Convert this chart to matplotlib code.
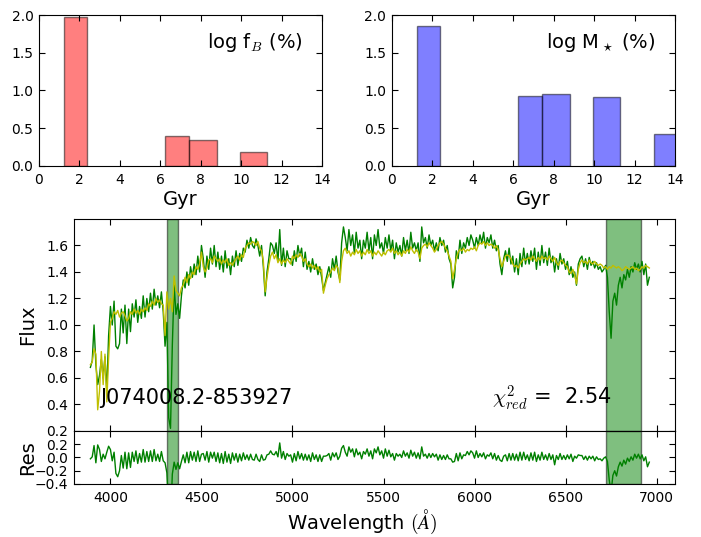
import numpy as np
import matplotlib
matplotlib.use("Agg")
import matplotlib.pyplot as plt


plt.rcParams.update({
    "font.family": "DejaVu Sans",
    "font.size": 10,
    "mathtext.fontset": "cm",
    "xtick.direction": "in",
    "ytick.direction": "in",
    "xtick.top": True,
    "ytick.right": True,
    "xtick.major.size": 4,
    "ytick.major.size": 4,
    "xtick.major.pad": 5,
    "ytick.major.pad": 4,
})


# star formation history bins (Gyr)
bin_left = [1.25, 6.23, 7.44, 9.96, 12.98]
bin_width = [1.12, 1.21, 1.37, 1.32, 1.37]
log_fb = [1.97, 0.40, 0.35, 0.18, 0.0]
log_mstar = [1.85, 0.93, 0.96, 0.92, 0.42]

# spectrum, sampled every 10 A from 3890 to 6960
wave = np.arange(3890, 6961, 10)

flux = [
    0.68, 0.73, 1.00, 0.70, 0.55, 0.62, 0.74, 0.60, 0.76, 0.50,
    0.92, 1.14, 1.00, 1.18, 0.84, 0.82, 0.86, 1.12, 0.94, 1.15,
    0.86, 1.12, 0.95, 1.16, 1.06, 1.19, 1.02, 1.14, 1.05, 1.22,
    1.06, 1.20, 1.10, 1.24, 1.12, 1.27, 1.15, 1.22, 1.13, 1.25,
    1.10, 0.84, 1.02, 0.30, 0.22, 0.85, 1.30, 1.08, 1.16, 1.05,
    1.22, 1.34, 1.28, 1.40, 1.30, 1.44, 1.36, 1.46, 1.38, 1.52,
    1.40, 1.60, 1.50, 1.36, 1.52, 1.42, 1.58, 1.46, 1.60, 1.44,
    1.55, 1.42, 1.52, 1.40, 1.56, 1.43, 1.50, 1.38, 1.52, 1.44,
    1.56, 1.45, 1.54, 1.48, 1.58, 1.55, 1.64, 1.58, 1.66, 1.60,
    1.58, 1.65, 1.60, 1.52, 1.60, 1.44, 1.22, 1.40, 1.50, 1.62,
    1.60, 1.54, 1.62, 1.48, 1.72, 1.45, 1.58, 1.44, 1.56, 1.50,
    1.50, 1.45, 1.56, 1.48, 1.60, 1.52, 1.58, 1.44, 1.55, 1.42,
    1.48, 1.40, 1.50, 1.42, 1.46, 1.38, 1.44, 1.36, 1.26, 1.32,
    1.38, 1.44, 1.36, 1.50, 1.42, 1.52, 1.40, 1.34, 1.62, 1.74,
    1.66, 1.56, 1.72, 1.60, 1.68, 1.54, 1.70, 1.58, 1.64, 1.50,
    1.64, 1.58, 1.70, 1.56, 1.66, 1.50, 1.68, 1.60, 1.72, 1.58,
    1.62, 1.54, 1.66, 1.58, 1.68, 1.56, 1.64, 1.50, 1.62, 1.55,
    1.60, 1.52, 1.66, 1.56, 1.64, 1.54, 1.70, 1.58, 1.62, 1.56,
    1.62, 1.48, 1.74, 1.62, 1.66, 1.58, 1.68, 1.60, 1.64, 1.56,
    1.62, 1.56, 1.66, 1.60, 1.64, 1.55, 1.60, 1.50, 1.46, 1.28,
    1.36, 1.56, 1.50, 1.64, 1.54, 1.62, 1.58, 1.66, 1.60, 1.68,
    1.64, 1.58, 1.66, 1.60, 1.68, 1.62, 1.70, 1.58, 1.66, 1.62,
    1.68, 1.58, 1.64, 1.56, 1.60, 1.46, 1.38, 1.50, 1.56, 1.48,
    1.58, 1.46, 1.52, 1.40, 1.50, 1.38, 1.54, 1.44, 1.58, 1.46,
    1.54, 1.46, 1.56, 1.48, 1.58, 1.42, 1.55, 1.45, 1.60, 1.47,
    1.55, 1.45, 1.58, 1.47, 1.52, 1.40, 1.50, 1.42, 1.54, 1.46,
    1.50, 1.42, 1.48, 1.38, 1.44, 1.36, 1.40, 1.30, 1.46, 1.50,
    1.52, 1.44, 1.50, 1.42, 1.51, 1.45, 1.48, 1.43, 1.47, 1.42,
    1.44, 1.40, 1.42, 1.45, 1.36, 1.10, 0.90, 1.18, 1.24, 1.15,
    1.30, 1.36, 1.28, 1.38, 1.34, 1.42, 1.36, 1.44, 1.40, 1.47,
    1.42, 1.46, 1.40, 1.48, 1.38, 1.46, 1.30, 1.36,
]

model = [
    0.70, 0.72, 0.82, 0.78, 0.36, 0.50, 0.80, 0.55, 0.78, 0.42,
    0.75, 1.02, 1.05, 1.10, 1.08, 1.11, 1.06, 1.09, 1.10, 1.07,
    1.03, 1.05, 1.10, 1.08, 1.12, 1.09, 1.11, 1.08, 1.12, 1.10,
    1.13, 1.11, 1.16, 1.14, 1.18, 1.15, 1.20, 1.17, 1.19, 1.16,
    1.15, 0.92, 1.25, 1.12, 1.20, 1.10, 1.37, 1.26, 1.24, 1.22,
    1.28, 1.30, 1.36, 1.32, 1.38, 1.35, 1.40, 1.38, 1.44, 1.42,
    1.46, 1.55, 1.44, 1.40, 1.43, 1.49, 1.50, 1.47, 1.52, 1.50,
    1.48, 1.50, 1.46, 1.49, 1.47, 1.50, 1.45, 1.47, 1.45, 1.48,
    1.50, 1.52, 1.49, 1.53, 1.51, 1.58, 1.60, 1.62, 1.61, 1.63,
    1.62, 1.60, 1.63, 1.58, 1.56, 1.48, 1.25, 1.36, 1.45, 1.52,
    1.55, 1.50, 1.53, 1.47, 1.50, 1.46, 1.49, 1.47, 1.50, 1.48,
    1.46, 1.52, 1.50, 1.53, 1.51, 1.54, 1.52, 1.48, 1.50, 1.46,
    1.44, 1.46, 1.43, 1.45, 1.42, 1.44, 1.40, 1.42, 1.24, 1.30,
    1.35, 1.38, 1.40, 1.43, 1.41, 1.45, 1.43, 1.32, 1.48, 1.56,
    1.58, 1.54, 1.56, 1.52, 1.55, 1.53, 1.57, 1.54, 1.56, 1.52,
    1.55, 1.53, 1.57, 1.54, 1.56, 1.52, 1.55, 1.53, 1.56, 1.54,
    1.52, 1.55, 1.53, 1.56, 1.57, 1.55, 1.58, 1.54, 1.56, 1.53,
    1.55, 1.52, 1.56, 1.54, 1.57, 1.55, 1.59, 1.56, 1.54, 1.57,
    1.55, 1.50, 1.58, 1.60, 1.61, 1.59, 1.62, 1.60, 1.58, 1.55,
    1.57, 1.60, 1.62, 1.63, 1.61, 1.58, 1.56, 1.52, 1.48, 1.35,
    1.42, 1.50, 1.55, 1.57, 1.56, 1.58, 1.55, 1.57, 1.56, 1.58,
    1.57, 1.59, 1.56, 1.60, 1.62, 1.61, 1.63, 1.60, 1.62, 1.60,
    1.61, 1.60, 1.58, 1.60, 1.57, 1.50, 1.44, 1.48, 1.52, 1.53,
    1.52, 1.50, 1.46, 1.44, 1.45, 1.43, 1.46, 1.48, 1.50, 1.49,
    1.50, 1.51, 1.49, 1.52, 1.50, 1.48, 1.51, 1.49, 1.52, 1.50,
    1.51, 1.49, 1.52, 1.50, 1.48, 1.51, 1.47, 1.45, 1.48, 1.49,
    1.47, 1.45, 1.44, 1.40, 1.39, 1.42, 1.38, 1.31, 1.42, 1.47,
    1.49, 1.47, 1.48, 1.46, 1.49, 1.47, 1.46, 1.48, 1.46, 1.45,
    1.46, 1.45, 1.43, 1.44, 1.42, 1.44, 1.43, 1.45, 1.44, 1.43,
    1.44, 1.43, 1.41, 1.42, 1.44, 1.43, 1.42, 1.43, 1.44, 1.42,
    1.43, 1.41, 1.42, 1.44, 1.43, 1.45, 1.44, 1.43,
]

flux = np.array(flux)
model = np.array(model)
residual = flux - model

# masked regions (A)
masks = [(4310, 4370), (6720, 6915)]

object_name = "J074008.2-853927"
chi2_red = 2.54


fig = plt.figure(figsize=(7.01, 5.37), dpi=100)

ax_fb = fig.add_axes([0.0556, 0.691, 0.404, 0.281])
ax_ms = fig.add_axes([0.559, 0.691, 0.404, 0.281])
ax_sp = fig.add_axes([0.1056, 0.1974, 0.857, 0.3948])
ax_res = fig.add_axes([0.1056, 0.0987, 0.857, 0.0987], sharex=ax_sp)


# age histograms
for ax, values, color, label in [
    (ax_fb, log_fb, "red", r"log f$_B$ (%)"),
    (ax_ms, log_mstar, "blue", r"log M$_\star$ (%)"),
]:
    for left, width, h in zip(bin_left, bin_width, values):
        if h > 0:
            ax.bar(left, h, width=width, align="edge", color=color,
                   alpha=0.5, edgecolor="black", linewidth=1)
    ax.set_xlim(0, 14)
    ax.set_ylim(0, 2)
    ax.set_xticks(range(0, 15, 2))
    ax.set_yticks([0.0, 0.5, 1.0, 1.5, 2.0])
    ax.set_xlabel("Gyr", fontsize=14, labelpad=2)
    ax.text(0.93, 0.82, label, transform=ax.transAxes, ha="right",
            va="center", fontsize=14)


# spectrum and fit
for lo, hi in masks:
    ax_sp.axvspan(lo, hi, facecolor="green", edgecolor="black", alpha=0.5, lw=1)
    ax_res.axvspan(lo, hi, facecolor="green", edgecolor="black", alpha=0.5, lw=1)

ax_sp.plot(wave, flux, color="green", lw=1)
ax_sp.plot(wave, model, color="y", lw=1)
ax_res.plot(wave, residual, color="green", lw=1)

ax_sp.set_xlim(3800, 7100)
ax_sp.set_ylim(0.2, 1.8)
ax_sp.set_yticks(np.arange(0.2, 1.61, 0.2))
ax_sp.set_xticks(range(4000, 7001, 500))
ax_sp.tick_params(labelbottom=False)
ax_sp.set_ylabel("Flux", fontsize=14)
ax_sp.yaxis.set_label_coords(-0.062, 0.5)

ax_sp.text(0.044, 0.156, object_name, transform=ax_sp.transAxes,
           ha="left", va="center", fontsize=15)
ax_sp.text(0.895, 0.156, r"$\chi^2_{red}$ =  %.2f" % chi2_red,
           transform=ax_sp.transAxes, ha="right", va="center", fontsize=15)

ax_res.set_ylim(-0.4, 0.4)
ax_res.set_yticks([-0.4, -0.2, 0.0, 0.2])
ax_res.set_ylabel("Res", fontsize=14)
ax_res.yaxis.set_label_coords(-0.062, 0.5)
ax_res.set_xlabel(r"Wavelength $(\AA)$", fontsize=14)
ax_res.xaxis.set_label_coords(0.479, -0.45)

fig.savefig("out.png", dpi=100)
